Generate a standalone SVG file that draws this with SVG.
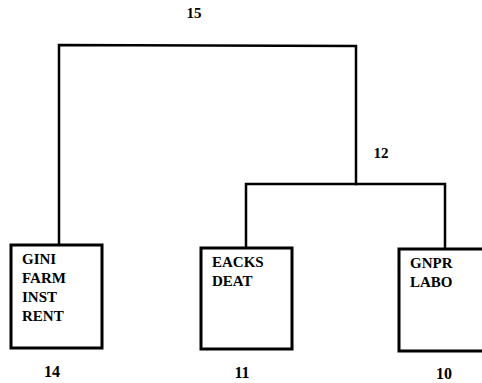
<svg xmlns="http://www.w3.org/2000/svg" width="482" height="383" viewBox="0 0 482 383">
<style>
.ln{fill:none;stroke:#000;stroke-width:2.5;stroke-linecap:square}
.box{fill:#fff;stroke:#000;stroke-width:3}
.t{font-family:"Liberation Serif",serif;font-weight:bold;font-size:15px;fill:#000}
.n{font-family:"Liberation Serif",serif;font-weight:bold;font-size:15px;fill:#000;text-anchor:middle}
.nb{font-family:"Liberation Serif",serif;font-weight:bold;font-size:16px;fill:#000;text-anchor:middle}
</style>
<rect width="482" height="383" fill="#fff"/>
<g id="connectors">
<path class="ln" d="M59,246 V45 L356,46 V184"/>
<path class="ln" d="M246,248 V184 H445 V249"/>
</g>
<g id="node-15"><text class="n" x="194" y="18">15</text></g>
<g id="node-12"><text class="n" x="381" y="158">12</text></g>
<g id="node-14">
<rect class="box" x="11" y="245" width="91" height="103"/>
<text class="t" x="22" y="264">GINI</text>
<text class="t" x="22" y="283">FARM</text>
<text class="t" x="22" y="302">INST</text>
<text class="t" x="22" y="321">RENT</text>
<text class="nb" x="52" y="377">14</text>
</g>
<g id="node-11">
<rect class="box" x="201" y="248" width="91" height="101"/>
<text class="t" x="212" y="267">EACKS</text>
<text class="t" x="212" y="286">DEAT</text>
<text class="nb" x="242" y="378">11</text>
</g>
<g id="node-10">
<rect class="box" x="399" y="249" width="100" height="102"/>
<text class="t" x="410" y="268">GNPR</text>
<text class="t" x="410" y="287">LABO</text>
<text class="nb" x="444" y="379">10</text>
</g>
</svg>
